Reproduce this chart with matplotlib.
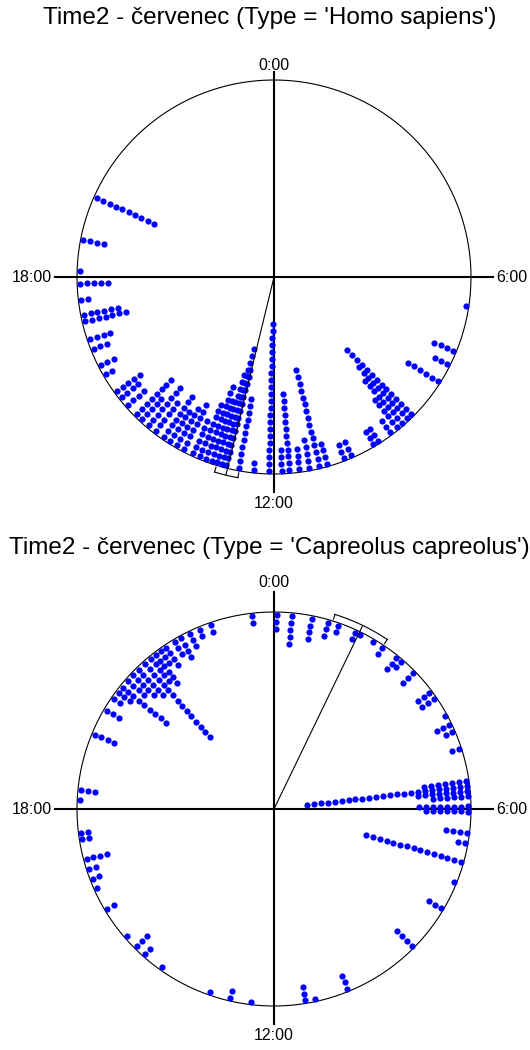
import numpy as np
import matplotlib.pyplot as plt

plt.rcParams['font.family'] = ['Liberation Sans', 'DejaVu Sans']

# time of day (hours) of each stack and number of records stacked there
homo_hours = [19.6, 18.73, 18.12, 17.87, 17.55, 17.25, 17.12, 16.75, 16.55, 16.2, 16.0,
              15.6, 15.45, 15.25, 15.0, 14.85, 14.68, 14.5, 14.3, 14.15, 14.0, 13.85,
              13.65, 13.5, 13.37, 13.25, 13.14, 13.03, 12.95, 12.7, 12.4, 12.1, 11.85,
              11.7, 11.5, 11.3, 11.1, 10.95, 10.6, 10.45, 9.95, 9.85, 9.55, 9.38, 9.25,
              9.12, 9.0, 8.17, 7.78, 7.49, 6.57]
homo_counts = [10, 4, 1, 5, 2, 6, 7, 4, 3, 3, 2,
               5, 4, 4, 8, 5, 8, 6, 8, 6, 7, 8,
               6, 9, 12, 10, 14, 18, 15, 11, 2, 22, 4,
               12, 4, 5, 15, 4, 3, 3, 3, 3, 3, 6, 9,
               11, 14, 6, 3, 4, 1]
homo_mean = 12.91
homo_ci = (12.68, 13.13)

capr_hours = [0.05, 0.35, 0.75, 1.07, 1.28, 1.65, 1.75, 2.04, 2.26, 2.6, 2.72, 3.04,
              3.55, 3.7, 4.1, 4.3, 4.45, 4.8, 5.45, 5.55, 5.65, 5.75, 5.95, 6.05,
              6.47, 6.68, 7.05, 7.47, 8.05, 8.99, 10.52, 11.19, 11.38, 12.45, 12.87,
              13.29, 14.35, 14.77, 15.0, 15.28, 15.94, 16.4, 16.6, 16.8, 17.0, 17.4,
              17.53, 18.17, 18.37, 19.5, 20.03, 20.3, 20.45, 20.58, 20.75, 20.9, 21.05,
              21.22, 21.38, 21.5, 21.62, 21.75, 21.95, 22.1, 22.3, 22.5, 22.74, 23.56]
capr_counts = [3, 5, 4, 3, 2, 2, 1, 1, 2, 3, 2, 3,
               3, 3, 1, 3, 2, 2, 7, 24, 8, 6, 8, 7,
               4, 2, 15, 1, 3, 4, 3, 1, 3, 1, 2,
               1, 1, 2, 3, 1, 2, 1, 2, 2, 4, 2,
               2, 1, 3, 4, 3, 2, 3, 9, 4, 5, 6,
               15, 5, 6, 3, 4, 3, 4, 3, 2, 2, 2]
capr_mean = 1.72
capr_ci = (1.16, 2.25)

hour_labels = ['0:00', '6:00', '12:00', '18:00']
titles = ["Time2 - červenec (Type = 'Homo sapiens')",
          "Time2 - červenec (Type = 'Capreolus capreolus')"]

W, H = 530, 1050
R_PX = 197.0
STEP = 7 / R_PX
HALF = 230 / R_PX


def polar_xy(hours, r):
    a = np.deg2rad(np.asarray(hours, dtype=float) * 15)
    return r * np.sin(a), r * np.cos(a)


def dial(ax, hours, counts, mean_h, ci, top_lab):
    t = np.linspace(0, 2 * np.pi, 500)
    ax.plot(np.cos(t), np.sin(t), color='black', lw=0.8)
    ax.plot([-1.11, 1.11], [0, 0], color='black', lw=1.5)
    ax.plot([0, 0], [-1.09, 1.04 if top_lab < 1.1 else 1.1], color='black', lw=1.5)

    # stacked dots, outermost on the circle
    hh = np.repeat(hours, counts)
    k = np.concatenate([np.arange(c) for c in counts])
    x, y = polar_xy(hh, 0.985 - k * STEP)
    ax.scatter(x, y, s=20, marker='o', color='#0000ff', linewidths=0, zorder=3)

    # mean vector and confidence interval
    mx, my = polar_xy([mean_h, mean_h], [0, 1.035])
    ax.plot(mx, my, color='black', lw=0.8, zorder=4)
    arc = np.linspace(ci[0], ci[1], 50)
    ax.plot(*polar_xy(arc, 1.035), color='black', lw=0.8)
    for h in ci:
        ax.plot(*polar_xy([h, h], [1.01, 1.035]), color='black', lw=0.8)

    kw = dict(fontsize=11.5, va='center')
    ax.text(0, top_lab, hour_labels[0], ha='center', **kw)
    ax.text(1.13, 0, hour_labels[1], ha='left', **kw)
    ax.text(0, -1.15, hour_labels[2], ha='center', **kw)
    ax.text(-1.13, 0, hour_labels[3], ha='right', **kw)

    ax.set_xlim(-HALF, HALF)
    ax.set_ylim(-HALF, HALF)
    ax.set_aspect('equal')
    ax.axis('off')


fig = plt.figure(figsize=(W / 100, H / 100), dpi=100)
for (cx, cy), hrs, cnt, mh, ci, tl, title, ty in [
        ((274, 277), homo_hours, homo_counts, homo_mean, homo_ci, 1.075, titles[0], 18),
        ((274, 809), capr_hours, capr_counts, capr_mean, capr_ci, 1.15, titles[1], 548)]:
    ax = fig.add_axes([(cx - 230) / W, (H - cy - 230) / H, 460 / W, 460 / H])
    dial(ax, hrs, cnt, mh, ci, tl)
    fig.text(0.508, 1 - ty / H, title, ha='center', va='center', fontsize=17.5)

fig.savefig('out.png', dpi=100)
